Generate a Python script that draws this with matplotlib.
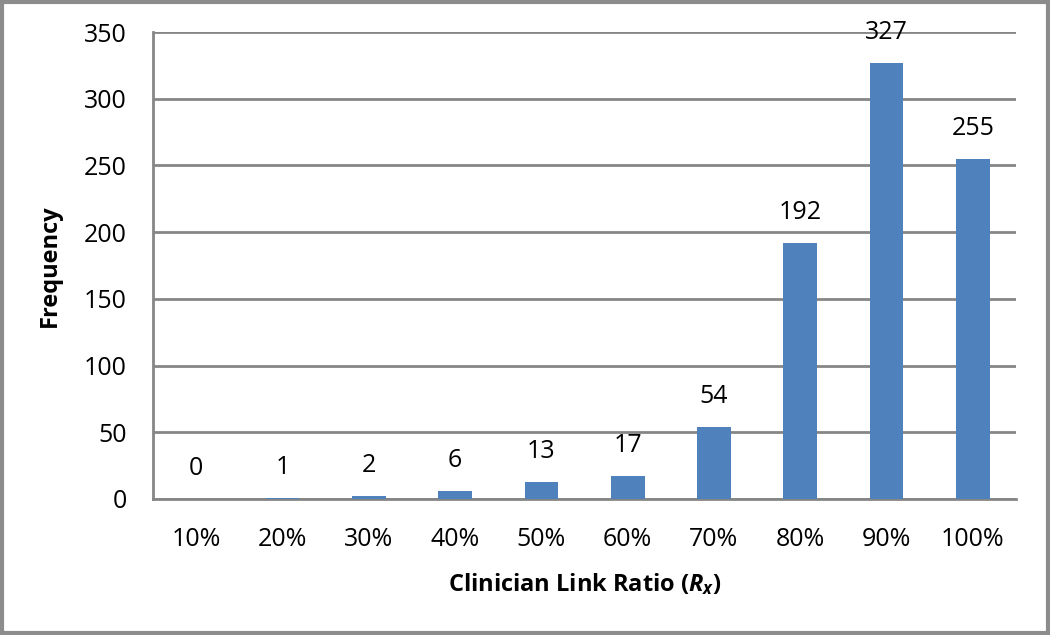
import numpy as np
import matplotlib
matplotlib.use("Agg")
from matplotlib import pyplot as plt
from matplotlib.patches import Rectangle

categories = ["10%", "20%", "30%", "40%", "50%", "60%", "70%", "80%", "90%", "100%"]
frequency = [0, 1, 2, 6, 13, 17, 54, 192, 327, 255]

plt.rcParams["font.family"] = ["Open Sans", "DejaVu Sans"]
plt.rcParams["mathtext.fontset"] = "custom"
plt.rcParams["mathtext.it"] = "Open Sans:italic:bold"
plt.rcParams["mathtext.rm"] = "Open Sans:bold"

bar_color = "#4F81BD"
grid_color = "#868686"

fig = plt.figure(figsize=(10.5, 6.35), dpi=100)
ax = fig.add_axes([0.1457, 0.2142, 0.822, 0.7354])

x = np.arange(len(categories))
ax.bar(x, frequency, width=0.39, color=bar_color, zorder=3)

for xi, v in zip(x, frequency):
    ax.annotate(str(v), (xi, v), xytext=(0, 13), textcoords="offset points",
                ha="center", va="bottom", fontsize=18, color="black")

ax.set_xlim(-0.5, len(categories) - 0.5)
ax.set_ylim(0, 350)
ax.set_yticks(np.arange(0, 351, 50))
ax.set_xticks(x)
ax.set_xticklabels(categories)
ax.tick_params(axis="both", length=0, labelsize=18, pad=20)
ax.tick_params(axis="y", pad=19)

ax.yaxis.grid(True, color=grid_color, linewidth=2, zorder=0)
for side in ["top", "right"]:
    ax.spines[side].set_visible(False)
for side in ["left", "bottom"]:
    ax.spines[side].set_color(grid_color)
    ax.spines[side].set_linewidth(2)

ax.set_ylabel("Frequency", fontsize=17, fontweight="bold", labelpad=16)
ax.set_xlabel(r"Clinician Link Ratio ($R_x$)", fontsize=17, fontweight="bold", labelpad=14)

# outer border around the chart
fig.patches.append(Rectangle((0.0015, 0.0025), 0.997, 0.995, transform=fig.transFigure,
                             fill=False, edgecolor="#8C8C8C", linewidth=3))

fig.savefig("out.png", dpi=100)
